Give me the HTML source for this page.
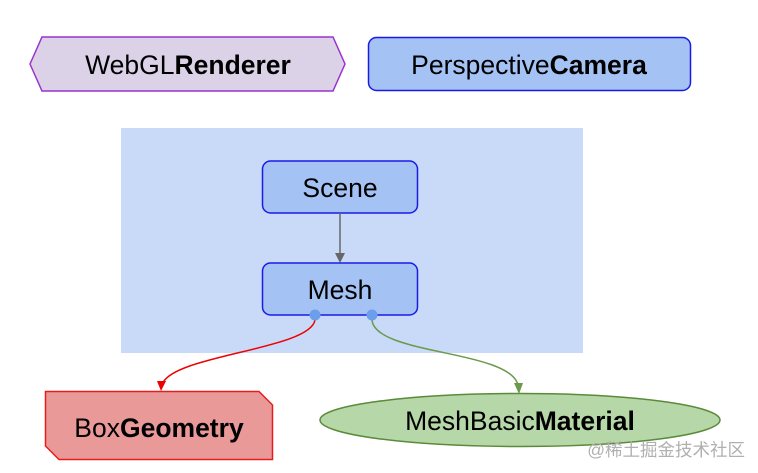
<!DOCTYPE html>
<html><head><meta charset="utf-8"><style>
html,body{margin:0;padding:0;background:#fff;width:758px;height:473px;overflow:hidden}
svg text{font-family:"Liberation Sans",Arial,sans-serif;font-size:26.5px;fill:#000}
</style></head><body>
<svg width="758" height="473" viewBox="0 0 758 473" xmlns="http://www.w3.org/2000/svg">
<polygon points="30,64 42,37 333,37 345,64 333,91 42,91" fill="#dcd2e8" stroke="#9933cc" stroke-width="1.5"/>
<text x="188" y="74" text-anchor="middle">WebGL<tspan font-weight="bold">Renderer</tspan></text>
<rect x="368.5" y="37.5" width="322" height="53" rx="8" fill="#a4c2f4" stroke="#1a1ae6" stroke-width="1.5"/>
<text x="529" y="74" text-anchor="middle">Perspective<tspan font-weight="bold">Camera</tspan></text>
<rect x="121" y="128" width="462" height="225" fill="#c9daf8"/>
<rect x="262.5" y="161" width="155" height="52" rx="8" fill="#a4c2f4" stroke="#1a1ae6" stroke-width="1.5"/>
<text x="340" y="197" text-anchor="middle">Scene</text>
<line x1="340" y1="213" x2="340" y2="259" stroke="#666" stroke-width="1.5"/>
<path d="M335,253 L340,263 L345,253 Z" fill="#666"/>
<rect x="262.5" y="263" width="155" height="52" rx="8" fill="#a4c2f4" stroke="#1a1ae6" stroke-width="1.5"/>
<text x="340" y="299" text-anchor="middle">Mesh</text>
<path d="M315,320 C310,350 170,355 162,385" fill="none" stroke="#e00" stroke-width="1.5"/>
<path d="M157,381 L161,391 L166,381 Z" fill="#e00"/>
<path d="M372,320 C375,355 510,350 518,385" fill="none" stroke="#6a9a4a" stroke-width="1.5"/>
<path d="M514,383 L519,394 L523,383 Z" fill="#6a9a4a"/>
<circle cx="315" cy="315" r="5.5" fill="#6d9eeb"/>
<circle cx="372" cy="315" r="5.5" fill="#6d9eeb"/>
<polygon points="45.5,391.5 259,391.5 272.5,405 272.5,459.5 59,459.5 45.5,446" fill="#ea9999" stroke="#e81c1c" stroke-width="1.5"/>
<text x="159" y="437" text-anchor="middle">Box<tspan font-weight="bold">Geometry</tspan></text>
<ellipse cx="520" cy="420" rx="200" ry="26.5" fill="#b6d7a8" stroke="#5a8a3a" stroke-width="1.5"/>
<text x="520" y="430" text-anchor="middle">MeshBasic<tspan font-weight="bold">Material</tspan></text>
<text x="745" y="456" text-anchor="end" style="font-family:'Liberation Sans','Noto Sans CJK SC',sans-serif;font-size:17.5px;fill:#b0b0b0">@稀土掘金技术社区</text>
</svg>
</body></html>
